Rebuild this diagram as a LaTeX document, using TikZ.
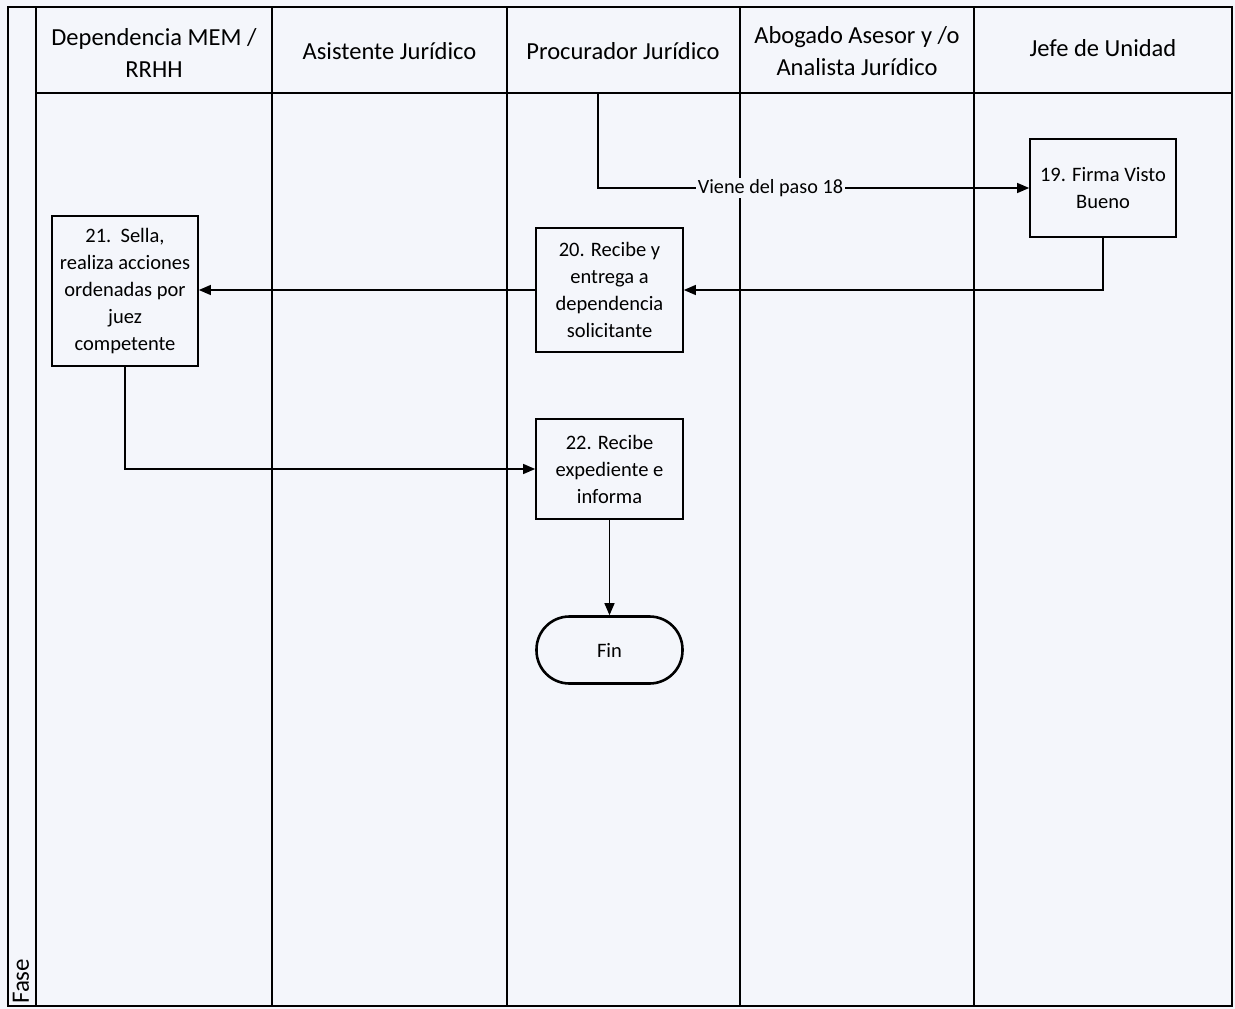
\documentclass[tikz,border=0pt]{standalone}
\usepackage{fontspec}
\setmainfont{Carlito}
\usetikzlibrary{arrows.meta}
\definecolor{bg}{HTML}{F4F6FB}
\tikzset{
  lane/.style={line width=2.6pt, draw=black},
  head/.style={align=center, font=\fontsize{24.5}{32}\selectfont, inner sep=0},
  stepbox/.style={draw=black, line width=1.7pt, fill=bg, align=center, inner sep=0,
    font=\fontsize{20.5}{27}\selectfont},
  conn/.style={draw=black, line width=1.3pt, -{Triangle[length=12pt,width=10pt]}},
}
\begin{document}
\begin{tikzpicture}[x=1pt,y=-1pt]
\useasboundingbox (0,0) rectangle (1235,1009);
\fill[bg] (0,0) rectangle (1235,1009);
% frame and lanes
\draw[lane] (8,7) rectangle (1232,1006);
\draw[lane] (36,7) -- (36,1006);
\draw[lane] (36,93) -- (1232,93);
\foreach \x in {272,507,740,974} \draw[lane] (\x,7) -- (\x,1006);
% headers
\node[head] (h1) at (154,53) {Dependencia MEM /\\RRHH};
\node[head] (h2) at (389.5,51) {Asistente Jurídico};
\node[head] (h3) at (623,51) {Procurador Jurídico};
\node[head] (h4) at (857,51) {Abogado Asesor y /o\\Analista Jurídico};
\node[head] (h5) at (1103,48) {Jefe de Unidad};
\node[head, rotate=90, anchor=west, font=\fontsize{25}{30}\selectfont] (fase) at (21,1004) {Fase};
% boxes
\node[stepbox, minimum width=146pt, minimum height=98pt] (b19) at (1103,188) {19. Firma Visto\\Bueno};
\node[stepbox, minimum width=147pt, minimum height=124pt] (b20) at (609.5,290) {20. Recibe y\\entrega a\\dependencia\\solicitante};
\node[stepbox, minimum width=146pt, minimum height=150pt] (b21) at (125,291) {21.\ \ Sella,\\realiza acciones\\ordenadas por\\juez\\competente};
\node[stepbox, minimum width=147pt, minimum height=100pt] (b22) at (609.5,469) {22. Recibe\\expediente e\\informa};
\node[stepbox, line width=2.6pt, minimum width=146pt, minimum height=67pt, rounded corners=33pt] (fin) at (609.5,650) {Fin};
% connectors
\coordinate (start) at (598,94);
\draw[conn] (start) |- node[pos=0.70, fill=bg, inner sep=1.5pt, font=\fontsize{20.2}{24}\selectfont] (lbl) {Viene del paso 18} (b19.west);
\draw[conn] (b19.south) |- (b20.east);
\draw[conn] (b20.west) -- (b20.west -| b21.east);
\draw[conn] (b21.south) |- (b22.west);
\draw[conn] (b22.south) -- (fin.north);
\end{tikzpicture}
\end{document}
